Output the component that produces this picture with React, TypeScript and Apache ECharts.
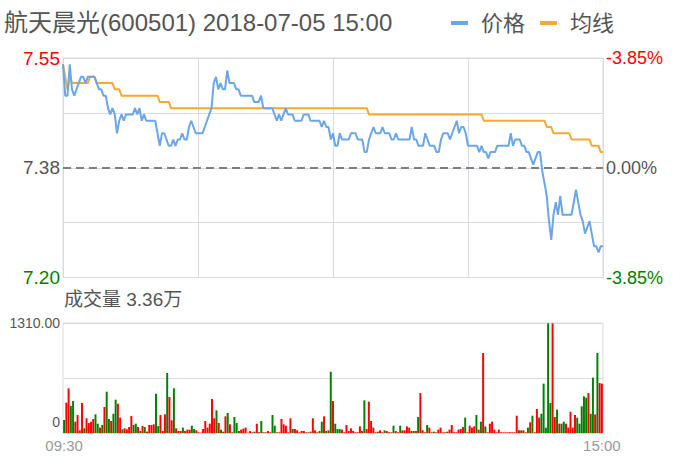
import React, { useEffect, useRef } from 'react';
import * as echarts from 'echarts';

const titleText = '航天晨光(600501) 2018-07-05 15:00';
const volumeTitle = '成交量 3.36万';
const legendNames = ['价格', '均线'];

const priceMin = 7.2;
const priceMax = 7.55;
const prevClose = 7.375;
const priceTickValues = [7.2, 7.375, 7.55];
const priceTickLabels = ['7.20', '7.38', '7.55'];

const pctMin = -3.85;
const pctMax = 3.85;
const pctStep = 1.925;
const pctTickLabels = ['-3.85%', '', '0.00%', '', '-3.85%'];

const volMax = 1310;
const volStep = 655;
const volTickLabels = ['0', '', '1310.00'];
const timeTickLabels = ['09:30', '15:00'];

const price = [
  7.54, 7.49, 7.49, 7.54, 7.50, 7.49, 7.50, 7.51, 7.52, 7.52,
  7.51, 7.52, 7.52, 7.52, 7.52, 7.51, 7.50, 7.50, 7.49, 7.49,
  7.47, 7.46, 7.47, 7.46, 7.43, 7.45, 7.46, 7.45, 7.46, 7.46,
  7.46, 7.46, 7.47, 7.46, 7.47, 7.45, 7.46, 7.45, 7.45, 7.45,
  7.45, 7.45, 7.43, 7.41, 7.43, 7.43, 7.42, 7.41, 7.41, 7.42,
  7.41, 7.42, 7.42, 7.43, 7.42, 7.42, 7.44, 7.45, 7.44, 7.43,
  7.43, 7.43, 7.43, 7.44, 7.45, 7.46, 7.47, 7.51, 7.52, 7.50,
  7.51, 7.50, 7.50, 7.53, 7.51, 7.51, 7.51, 7.50, 7.50, 7.49,
  7.49, 7.49, 7.49, 7.49, 7.49, 7.48, 7.48, 7.48, 7.49, 7.47,
  7.47, 7.47, 7.47, 7.47, 7.46, 7.45, 7.46, 7.45, 7.46, 7.47,
  7.46, 7.46, 7.46, 7.45, 7.45, 7.45, 7.45, 7.46, 7.46, 7.46,
  7.45, 7.45, 7.45, 7.45, 7.45, 7.44, 7.45, 7.44, 7.44, 7.42,
  7.43, 7.41, 7.41, 7.43, 7.42, 7.42, 7.42, 7.42, 7.43, 7.43,
  7.43, 7.42, 7.42, 7.42, 7.40, 7.40, 7.42, 7.43, 7.44, 7.43,
  7.43, 7.43, 7.44, 7.43, 7.43, 7.43, 7.42, 7.42, 7.43, 7.42,
  7.42, 7.42, 7.42, 7.42, 7.42, 7.44, 7.42, 7.42, 7.41, 7.41,
  7.41, 7.43, 7.42, 7.41, 7.41, 7.41, 7.40, 7.40, 7.42, 7.43,
  7.43, 7.43, 7.42, 7.43, 7.44, 7.45, 7.43, 7.44, 7.44, 7.43,
  7.41, 7.41, 7.41, 7.41, 7.41, 7.40, 7.41, 7.40, 7.40, 7.39,
  7.40, 7.40, 7.40, 7.41, 7.41, 7.41, 7.41, 7.41, 7.41, 7.43,
  7.41, 7.42, 7.42, 7.42, 7.41, 7.41, 7.40, 7.40, 7.39, 7.38,
  7.39, 7.40, 7.40, 7.37, 7.35, 7.33, 7.29, 7.26, 7.30, 7.32,
  7.30, 7.33, 7.30, 7.30, 7.30, 7.30, 7.30, 7.32, 7.34, 7.32,
  7.30, 7.29, 7.27, 7.28, 7.29, 7.27, 7.25, 7.25, 7.24, 7.25,
  7.25,
];

const avgPrice = [
  7.54, 7.52, 7.50, 7.52, 7.51, 7.51, 7.51, 7.51, 7.51, 7.51,
  7.51, 7.51, 7.52, 7.52, 7.52, 7.51, 7.51, 7.51, 7.51, 7.51,
  7.51, 7.51, 7.51, 7.50, 7.50, 7.50, 7.49, 7.49, 7.49, 7.49,
  7.49, 7.49, 7.49, 7.49, 7.49, 7.49, 7.49, 7.49, 7.49, 7.49,
  7.49, 7.49, 7.49, 7.48, 7.48, 7.48, 7.48, 7.48, 7.47, 7.47,
  7.47, 7.47, 7.47, 7.47, 7.47, 7.47, 7.47, 7.47, 7.47, 7.47,
  7.47, 7.47, 7.47, 7.47, 7.47, 7.47, 7.47, 7.47, 7.47, 7.47,
  7.47, 7.47, 7.47, 7.47, 7.47, 7.47, 7.47, 7.47, 7.47, 7.47,
  7.47, 7.47, 7.47, 7.47, 7.47, 7.47, 7.47, 7.47, 7.47, 7.47,
  7.47, 7.47, 7.47, 7.47, 7.47, 7.47, 7.47, 7.47, 7.47, 7.47,
  7.47, 7.47, 7.47, 7.47, 7.47, 7.47, 7.47, 7.47, 7.47, 7.47,
  7.47, 7.47, 7.47, 7.47, 7.47, 7.47, 7.47, 7.47, 7.47, 7.47,
  7.47, 7.47, 7.47, 7.47, 7.47, 7.47, 7.47, 7.47, 7.47, 7.47,
  7.47, 7.47, 7.47, 7.47, 7.47, 7.47, 7.46, 7.46, 7.46, 7.46,
  7.46, 7.46, 7.46, 7.46, 7.46, 7.46, 7.46, 7.46, 7.46, 7.46,
  7.46, 7.46, 7.46, 7.46, 7.46, 7.46, 7.46, 7.46, 7.46, 7.46,
  7.46, 7.46, 7.46, 7.46, 7.46, 7.46, 7.46, 7.46, 7.46, 7.46,
  7.46, 7.46, 7.46, 7.46, 7.46, 7.46, 7.46, 7.46, 7.46, 7.46,
  7.46, 7.46, 7.46, 7.46, 7.46, 7.46, 7.46, 7.45, 7.45, 7.45,
  7.45, 7.45, 7.45, 7.45, 7.45, 7.45, 7.45, 7.45, 7.45, 7.45,
  7.45, 7.45, 7.45, 7.45, 7.45, 7.45, 7.45, 7.45, 7.45, 7.45,
  7.45, 7.45, 7.45, 7.45, 7.45, 7.44, 7.44, 7.44, 7.43, 7.43,
  7.43, 7.43, 7.43, 7.43, 7.43, 7.43, 7.42, 7.42, 7.42, 7.42,
  7.42, 7.42, 7.42, 7.42, 7.42, 7.41, 7.41, 7.41, 7.41, 7.40,
  7.40,
];

const volume = [
  155, 361, 532, 322, 381, 135, 214, 32, 357, 56,
  175, 119, 135, 167, 222, 111, 64, 95, 310, 492,
  167, 143, 230, 397, 349, 183, 44, 56, 44, 71,
  202, 95, 111, 71, 24, 83, 71, 16, 95, 95,
  103, 468, 83, 214, 24, 222, 715, 429, 151, 532,
  56, 24, 24, 64, 24, 40, 40, 87, 48, 32,
  8, 4, 48, 143, 64, 111, 405, 175, 270, 119,
  40, 16, 198, 238, 103, 8, 190, 119, 24, 40,
  52, 64, 4, 24, 8, 16, 111, 8, 143, 8,
  8, 24, 8, 214, 87, 8, 8, 167, 103, 87,
  8, 175, 48, 48, 32, 8, 24, 24, 8, 8,
  16, 175, 32, 8, 24, 135, 198, 24, 32, 730,
  381, 111, 48, 48, 40, 8, 95, 24, 56, 24,
  8, 8, 79, 24, 389, 48, 373, 143, 64, 8,
  16, 32, 8, 32, 24, 8, 8, 87, 24, 8,
  87, 32, 32, 79, 64, 24, 24, 24, 190, 476,
  32, 8, 95, 64, 8, 16, 8, 40, 64, 8,
  8, 16, 40, 95, 8, 8, 40, 48, 71, 183,
  8, 87, 64, 79, 214, 40, 135, 953, 79, 8,
  111, 135, 40, 8, 40, 8, 8, 8, 8, 8,
  8, 8, 206, 32, 32, 32, 8, 64, 127, 206,
  8, 286, 183, 230, 588, 64, 1306, 357, 1306, 190,
  278, 111, 111, 135, 111, 64, 254, 64, 214, 183,
  111, 318, 437, 421, 476, 230, 659, 222, 953, 595,
  588,
];

// 1 = up (red), -1 = down (green)
const volumeDir = [
  -1, 1, 1, -1, -1, 1, 1, 1, 1, -1,
  1, 1, 1, 1, -1, -1, 1, -1, 1, -1,
  -1, 1, -1, -1, 1, 1, -1, 1, 1, 1,
  1, -1, -1, 1, -1, 1, -1, 1, 1, 1,
  1, -1, -1, 1, 1, 1, -1, 1, 1, -1,
  1, 1, 1, -1, 1, 1, 1, -1, -1, 1,
  1, 1, 1, 1, 1, 1, 1, 1, -1, 1,
  -1, 1, 1, -1, 1, 1, -1, -1, -1, 1,
  1, 1, 1, 1, 1, -1, 1, 1, -1, 1,
  1, 1, 1, -1, -1, 1, 1, 1, 1, 1,
  1, 1, -1, 1, 1, 1, 1, 1, 1, 1,
  -1, 1, 1, 1, -1, -1, 1, -1, 1, -1,
  1, -1, -1, -1, 1, 1, 1, 1, 1, 1,
  1, 1, 1, 1, -1, 1, 1, 1, 1, 1,
  -1, 1, 1, -1, 1, 1, 1, -1, 1, 1,
  -1, 1, 1, 1, 1, 1, -1, 1, -1, 1,
  1, 1, -1, 1, 1, -1, 1, 1, 1, 1,
  1, -1, 1, 1, 1, 1, 1, 1, 1, -1,
  1, 1, 1, 1, -1, 1, -1, 1, -1, 1,
  1, 1, 1, 1, 1, 1, 1, 1, 1, 1,
  1, 1, 1, 1, -1, 1, 1, -1, 1, -1,
  1, 1, 1, -1, -1, -1, -1, -1, 1, 1,
  -1, 1, -1, -1, 1, 1, 1, 1, 1, -1,
  -1, -1, -1, -1, 1, -1, -1, 1, -1, 1,
  1,
];

const pad = (n: number) => (n < 10 ? '0' + n : '' + n);
const times: string[] = [];
for (let m = 0; m <= 120; m++) {
  const t = 9 * 60 + 30 + m;
  times.push(pad(Math.floor(t / 60)) + ':' + pad(t % 60));
}
for (let m = 1; m <= 120; m++) {
  const t = 13 * 60 + m;
  times.push(pad(Math.floor(t / 60)) + ':' + pad(t % 60));
}

const FONT = '"Liberation Sans", Arial, "Noto Sans CJK SC", sans-serif';
const BLUE = '#6aa6e8';
const ORANGE = '#f6a832';
const RED = '#ff0000';
const GREEN = '#008000';
const GRAY = '#555555';
const GRID = '#d6dbe6';

export default function App() {
  const ref = useRef<HTMLDivElement>(null);
  useEffect(() => {
    if (!ref.current) return;
    const chart = echarts.init(ref.current, undefined, { renderer: 'svg' });
    const signColor = (v: any) => {
      const n = Number(v);
      return n > 1e-9 ? RED : n < -1e-9 ? GREEN : GRAY;
    };
    const option: any = {
      animation: false,
      textStyle: { fontFamily: FONT },
      title: [
        {
          text: titleText,
          left: 4,
          top: 10,
          padding: 0,
          textStyle: { fontSize: 24, fontWeight: 'normal', color: GRAY, fontFamily: FONT },
        },
        {
          text: volumeTitle,
          left: 64,
          top: 290,
          padding: 0,
          textStyle: { fontSize: 19, fontWeight: 'normal', color: GRAY, fontFamily: FONT },
        },
      ],
      legend: {
        data: legendNames,
        left: 451,
        top: 12,
        padding: 0,
        itemGap: 15,
        itemWidth: 17,
        itemHeight: 4,
        icon: 'rect',
        textStyle: { fontSize: 22, color: GRAY, fontFamily: FONT, padding: [0, 0, 0, 8] },
      },
      grid: [
        { left: 63, top: 58, width: 540, height: 219.5, show: true, borderColor: GRID, borderWidth: 1 },
        { left: 63, top: 323, width: 540, height: 110, show: true, borderColor: GRID, borderWidth: 1 },
      ],
      xAxis: [
        {
          type: 'category',
          gridIndex: 0,
          data: times,
          boundaryGap: false,
          axisLine: { show: false },
          axisTick: { show: false },
          axisLabel: { show: false },
          splitLine: {
            show: true,
            interval: (i: number) => i % 60 === 0,
            lineStyle: { color: GRID, width: 1 },
          },
        },
        {
          type: 'category',
          gridIndex: 1,
          data: times,
          boundaryGap: true,
          axisLine: { show: false },
          axisTick: { show: false },
          splitLine: { show: false },
          axisLabel: {
            interval: (i: number) => i === 0 || i === times.length - 1,
            formatter: (v: string) => (timeTickLabels.indexOf(v) >= 0 ? v : ''),
            color: '#999999',
            fontSize: 15,
            margin: 5,
            fontFamily: FONT,
          },
        },
      ],
      yAxis: [
        {
          type: 'value',
          gridIndex: 0,
          min: priceMin,
          max: priceMax,
          position: 'left',
          axisLine: { show: false },
          axisTick: { show: false },
          splitLine: { show: false },
          axisLabel: {
            customValues: priceTickValues,
            formatter: (v: number) => {
              const k = priceTickValues.findIndex((t) => Math.abs(t - v) < 1e-6);
              return k >= 0 ? priceTickLabels[k] : '';
            },
            color: (v: any) => signColor(Number(v) - prevClose),
            fontSize: 19,
            margin: 3,
            fontFamily: FONT,
          },
        },
        {
          type: 'value',
          gridIndex: 0,
          min: pctMin,
          max: pctMax,
          interval: pctStep,
          position: 'right',
          axisLine: { show: false },
          axisTick: { show: false },
          splitLine: { show: true, lineStyle: { color: GRID, width: 1 } },
          axisLabel: {
            formatter: (v: number, idx: number) => pctTickLabels[idx] || '',
            color: (v: any) => signColor(v),
            fontSize: 18,
            margin: 3,
            fontFamily: FONT,
          },
        },
        {
          type: 'value',
          gridIndex: 1,
          min: 0,
          max: volMax,
          interval: volStep,
          axisLine: { show: false },
          axisTick: { show: false },
          splitLine: { show: true, lineStyle: { color: GRID, width: 1 } },
          axisLabel: {
            formatter: (v: number, idx: number) =>
              idx === 0 ? '{lo|' + volTickLabels[0] + '}' : volTickLabels[idx] || '',
            color: GRAY,
            fontSize: 14,
            margin: 3,
            fontFamily: FONT,
            rich: { lo: { padding: [0, 0, 22, 0], fontSize: 14, color: GRAY, fontFamily: FONT } },
          },
        },
      ],
      series: [
        {
          name: legendNames[0],
          type: 'line',
          xAxisIndex: 0,
          yAxisIndex: 0,
          data: price,
          symbol: 'none',
          showSymbol: false,
          lineStyle: { color: BLUE, width: 2 },
          itemStyle: { color: BLUE },
          markLine: {
            silent: true,
            precision: 4,
            symbol: ['none', 'none'],
            label: { show: false },
            lineStyle: { color: '#7f7f7f', type: [8, 5], width: 2 },
            data: [{ yAxis: prevClose }],
          },
          z: 3,
        },
        {
          name: legendNames[1],
          type: 'line',
          xAxisIndex: 0,
          yAxisIndex: 0,
          data: avgPrice,
          symbol: 'none',
          showSymbol: false,
          lineStyle: { color: ORANGE, width: 2 },
          itemStyle: { color: ORANGE },
          z: 2,
        },
        {
          name: 'volume',
          type: 'bar',
          xAxisIndex: 1,
          yAxisIndex: 2,
          barCategoryGap: '12%',
          data: volume.map((v, i) => ({
            value: v,
            itemStyle: { color: volumeDir[i] > 0 ? RED : GREEN },
          })),
        },
      ],
    };
    chart.setOption(option);
    return () => chart.dispose();
  }, []);
  return (
    <div
      ref={ref}
      style={{ position: 'fixed', left: 0, top: 0, width: 673, height: 458, background: '#fff' }}
    />
  );
}
